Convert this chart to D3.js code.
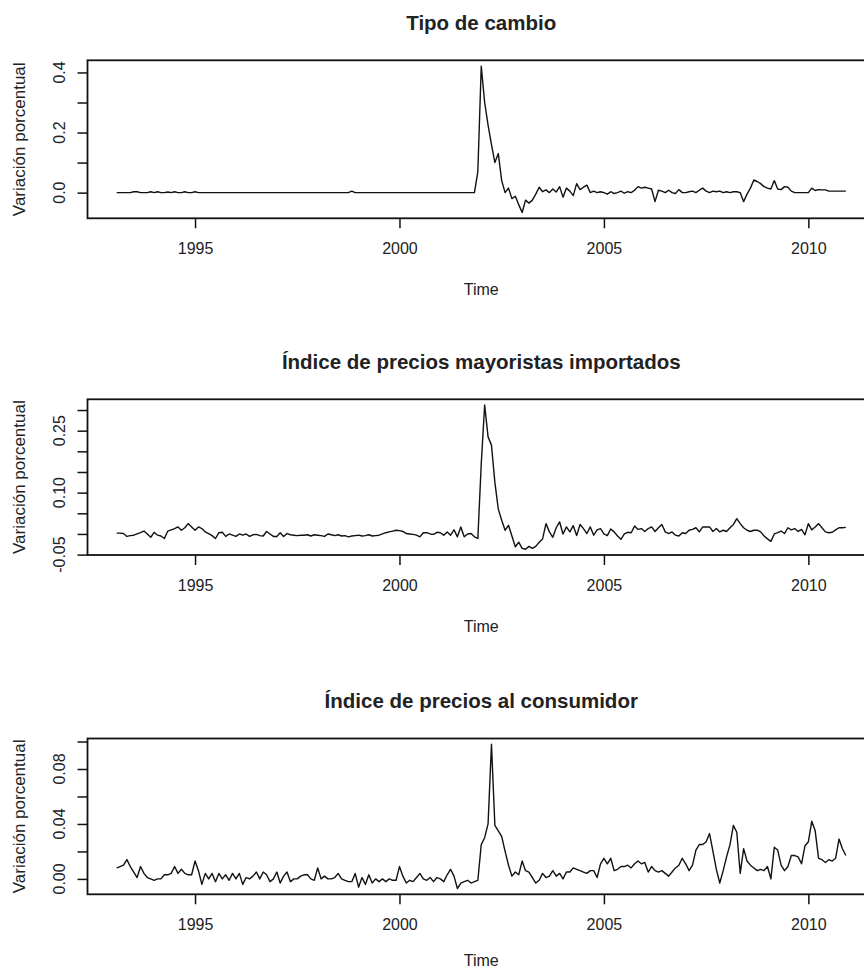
<!DOCTYPE html>
<html>
<head>
<meta charset="utf-8">
<script src="https://cdn.jsdelivr.net/npm/d3@7"></script>
<style>
  body { margin: 0; background: #fff; }
  svg text { font-family: "Liberation Sans", Arial, sans-serif; fill: #222; }
</style>
</head>
<body>
<div id="chart"></div>
<script>
"use strict";

// == data: monthly percent change, Feb 1993 .. Dec 2010 ==
var startYear = 1993, startMonth = 2;
var yearTicks = [1995, 2000, 2005, 2010];
var titles = ["Tipo de cambio", "Índice de precios mayoristas importados", "Índice de precios al consumidor"];
var yLabel = "Variación porcentual";
var xLabel = "Time";

var tipoCambio = [
  0, 0, 0, 0, 0, 0.003, 0.003, 0, 0, 0, 0.003,
  0, 0.003, 0, 0, 0.002, 0, 0.003, 0, 0, 0.003, 0, 0,
  0.003, 0, 0, 0, 0, 0, 0, 0, 0, 0, 0, 0,
  0, 0, 0, 0, 0, 0, 0, 0, 0, 0, 0, 0,
  0, 0, 0, 0, 0, 0, 0, 0, 0, 0, 0, 0,
  0, 0, 0, 0, 0, 0, 0, 0, 0, 0, 0.005, 0,
  0, 0, 0, 0, 0, 0, 0, 0, 0, 0, 0, 0,
  0, 0, 0, 0, 0, 0, 0, 0, 0, 0, 0, 0,
  0, 0, 0, 0, 0, 0, 0, 0, 0, 0, 0, 0.07,
  0.421, 0.30, 0.225, 0.16, 0.10, 0.13, 0.04, 0.0, 0.015, -0.02, -0.012, -0.04,
  -0.066, -0.025, -0.035, -0.025, -0.005, 0.018, 0.003, 0.009, 0.0, 0.012, 0.002, 0.02,
  -0.015, 0.015, 0.005, -0.01, 0.03, 0.01, 0.018, 0.025, 0.0, 0.005, 0.0, 0.003,
  0.0, -0.005, 0.003, -0.003, 0.0, 0.005, -0.002, 0.003, 0.0, 0.008, 0.02, 0.015,
  0.018, 0.015, 0.012, -0.03, 0.008, 0.005, 0.0, 0.008, 0.0, -0.003, 0.01, 0.0,
  0.0, 0.003, 0.005, 0.0, 0.008, 0.015, 0.005, 0.0, 0.005, 0.003, 0.005, 0.0,
  0.003, 0.0, 0.003, 0.003, 0.0, -0.03, -0.005, 0.015, 0.042, 0.037, 0.03, 0.02,
  0.015, 0.012, 0.04, 0.012, 0.01, 0.02, 0.018, 0.005, 0, 0, 0, 0,
  0, 0.015, 0.007, 0.01, 0.009, 0.009, 0.005, 0.005, 0.005, 0.005, 0.005, 0.005
];

var preciosMayoristas = [
  0.002, 0.002, 0.001, -0.006, -0.004, -0.003, 0.0, 0.003, 0.007, 0.0, -0.008,
  0.004, -0.003, -0.005, -0.011, 0.007, 0.01, 0.013, 0.017, 0.009, 0.015, 0.025, 0.017,
  0.009, 0.017, 0.013, 0.005, 0.001, -0.004, -0.011, 0.003, 0.004, -0.006, 0.0, -0.003,
  -0.006, 0.0, -0.003, 0.0, -0.006, -0.002, -0.001, -0.004, -0.005, 0.006, 0.0, -0.006,
  -0.006, 0.003, -0.006, 0.001, -0.002, -0.003, -0.004, -0.003, -0.003, -0.002, -0.005, -0.002,
  -0.003, -0.004, -0.006, 0.0, -0.002, -0.004, -0.002, -0.005, -0.004, -0.007, -0.005, -0.004,
  -0.003, -0.005, -0.004, -0.002, -0.005, -0.004, -0.003, 0.0, 0.003, 0.005, 0.007, 0.009,
  0.008, 0.006, 0.001, 0.0, -0.001, -0.003, -0.007, 0.003, 0.003, 0.0, -0.001, 0.004,
  0.003, -0.003, 0.005, -0.003, 0.01, -0.007, 0.017, -0.007, 0.0, 0.001, -0.007, -0.011,
  0.17, 0.312, 0.235, 0.215, 0.125, 0.06, 0.033, 0.009, 0.021, -0.005, -0.031, -0.02,
  -0.035, -0.037, -0.03, -0.035, -0.03, -0.02, -0.012, 0.025, 0.005, -0.008, 0.015, 0.029,
  0.0, 0.017, 0.005, 0.02, -0.004, 0.023, 0.013, 0.001, 0.017, -0.003, 0.01, 0.013,
  0.0, -0.004, 0.012, 0.005, -0.005, -0.013, 0.0, 0.004, 0.003, 0.019, 0.011, 0.013,
  0.006, 0.013, 0.017, 0.006, 0.015, 0.023, 0.005, 0.001, 0.005, -0.003, -0.005, 0.003,
  0.001, 0.009, 0.011, 0.015, 0.005, 0.017, 0.017, 0.017, 0.006, 0.013, 0.005, 0.009,
  0.006, 0.015, 0.023, 0.037, 0.025, 0.015, 0.009, 0.006, 0.009, 0.009, 0.005, -0.005,
  -0.012, -0.018, 0.0, 0.003, 0.007, 0.001, 0.015, 0.01, 0.013, 0.006, 0.011, -0.002,
  0.025, 0.01, 0.017, 0.025, 0.015, 0.005, 0.003, 0.004, 0.01, 0.015, 0.015, 0.016
];

var preciosConsumidor = [
  0.008, 0.009, 0.01, 0.014, 0.009, 0.005, 0.001, 0.009, 0.004, 0.001, 0.0,
  -0.001, 0.0, 0.0, 0.003, 0.003, 0.004, 0.009, 0.004, 0.007, 0.004, 0.003, 0.003,
  0.013, 0.006, -0.004, 0.004, 0.0, 0.004, -0.002, 0.004, 0.0, 0.003, -0.001, 0.004,
  0.0, 0.004, -0.004, 0.001, 0.0, 0.002, 0.005, 0.0, 0.005, 0.003, -0.002, 0.0,
  0.005, -0.003, 0.002, 0.005, -0.002, 0.0, 0.0, 0.002, 0.003, 0.003, 0.0, -0.001,
  0.008, 0.0, 0.002, 0.0, 0.0, 0.001, 0.004, 0.0, -0.001, -0.002, -0.002, 0.004,
  -0.006, 0.001, -0.004, 0.003, -0.003, 0.0, -0.002, 0.0, -0.002, 0.0, -0.001, -0.001,
  0.009, 0.002, -0.003, -0.001, -0.002, 0.001, 0.004, 0.0, -0.001, 0.001, -0.002, 0.001,
  0.0, -0.002, 0.003, 0.007, 0.002, -0.007, -0.003, -0.002, -0.001, -0.003, -0.002, -0.001,
  0.025, 0.03, 0.04, 0.098, 0.039, 0.035, 0.031, 0.02, 0.01, 0.002, 0.005, 0.003,
  0.013, 0.006, 0.005, 0.001, -0.003, -0.001, 0.004, 0.001, 0.002, 0.006, 0.002, 0.004,
  0.0, 0.005, 0.005, 0.008, 0.007, 0.006, 0.005, 0.004, 0.006, 0.006, 0.001, 0.011,
  0.015, 0.011, 0.015, 0.006, 0.007, 0.009, 0.009, 0.01, 0.008, 0.011, 0.013, 0.011,
  0.012, 0.005, 0.009, 0.006, 0.005, 0.006, 0.004, 0.002, 0.005, 0.008, 0.01, 0.015,
  0.011, 0.006, 0.01, 0.021, 0.025, 0.025, 0.027, 0.033, 0.02, 0.007, -0.003, 0.006,
  0.016, 0.025, 0.039, 0.034, 0.004, 0.022, 0.013, 0.01, 0.008, 0.006, 0.007, 0.006,
  0.009, 0.0, 0.023, 0.021, 0.01, 0.006, 0.009, 0.017, 0.017, 0.016, 0.011, 0.024,
  0.027, 0.042, 0.035, 0.015, 0.014, 0.012, 0.014, 0.013, 0.015, 0.029, 0.022, 0.017
];

// == y axis ticks and the labels R kept ==
var yTicks = [
  [0, 0.1, 0.2, 0.3, 0.4],
  [-0.05, 0, 0.05, 0.10, 0.15, 0.20, 0.25, 0.30],
  [0, 0.02, 0.04, 0.06, 0.08, 0.10]
];
var yLabelValues = [[0, 0.2, 0.4], [-0.05, 0.10, 0.25], [0, 0.04, 0.08]];
var yLabelTexts = [["0.0", "0.2", "0.4"], ["-0.05", "0.10", "0.25"], ["0.00", "0.04", "0.08"]];

var seriesList = [tipoCambio, preciosMayoristas, preciosConsumidor];

// == layout ==
var width = 864, height = 971;
var left = 87.5, right = 875;
var panelTops = [60.3, 399.3, 738.5];
var panelBottoms = [218.3, 555, 894.3];

var svg = d3.select("#chart")
            .append("svg")
            .attr("width", width)
            .attr("height", height)
            .style("display", "block");

svg.append("rect")
   .attr("width", width)
   .attr("height", height)
   .attr("fill", "#fff");

// == time for every month, R pads the range by 4% ==
var times = tipoCambio.map(function (d, i) {
  return startYear + (startMonth - 1 + i) / 12;
});
var tExt = d3.extent(times);
var tPad = (tExt[1] - tExt[0]) * 0.04;
var xScale = d3.scaleLinear()
               .domain([tExt[0] - tPad, tExt[1] + tPad])
               .range([left, right]);

seriesList.forEach(function (values, p) {
  var top = panelTops[p], bottom = panelBottoms[p];
  var ext = d3.extent(values);
  var pad = (ext[1] - ext[0]) * 0.04;
  var yScale = d3.scaleLinear()
                 .domain([ext[0] - pad, ext[1] + pad])
                 .range([bottom, top]);

  var g = svg.append("g");

  // == the series ==
  var line = d3.line()
               .x(function (d, i) { return xScale(times[i]); })
               .y(function (d) { return yScale(d); });

  g.append("path")
   .datum(values)
   .attr("d", line)
   .attr("fill", "none")
   .attr("stroke", "#111")
   .attr("stroke-width", 1.4)
   .attr("stroke-linejoin", "round");

  // == box ==
  g.append("rect")
   .attr("x", left)
   .attr("y", top)
   .attr("width", right - left)
   .attr("height", bottom - top)
   .attr("fill", "none")
   .attr("stroke", "#111")
   .attr("stroke-width", 1.8);

  // == x axis ==
  var xAxis = d3.axisBottom(xScale)
                .tickValues(yearTicks)
                .tickSizeInner(10)
                .tickSizeOuter(0)
                .tickFormat(d3.format("d"));

  var gx = g.append("g")
            .attr("transform", "translate(0," + bottom + ")")
            .call(xAxis);
  gx.select(".domain").remove();
  gx.selectAll(".tick line").attr("stroke", "#111").attr("stroke-width", 1.5);
  gx.selectAll(".tick text")
    .attr("y", 36)
    .attr("dy", null)
    .attr("font-size", 16)
    .attr("font-family", "Liberation Sans, Arial, sans-serif")
    .attr("fill", "#222");

  // == y axis ==
  var yAxis = d3.axisLeft(yScale)
                .tickValues(yTicks[p])
                .tickSizeInner(10)
                .tickSizeOuter(0)
                .tickFormat("");

  var gy = g.append("g")
            .attr("transform", "translate(" + left + ",0)")
            .call(yAxis);
  gy.select(".domain").remove();
  gy.selectAll(".tick line").attr("stroke", "#111").attr("stroke-width", 1.5);

  g.selectAll(".ylab")
   .data(yLabelValues[p])
   .enter()
   .append("text")
   .attr("class", "ylab")
   .attr("transform", function (d) {
     return "translate(65," + yScale(d) + ") rotate(-90)";
   })
   .attr("text-anchor", "middle")
   .attr("font-size", 16)
   .text(function (d, i) { return yLabelTexts[p][i]; });

  // == titles and axis names ==
  g.append("text")
   .attr("x", (left + right) / 2)
   .attr("y", top - 30.5)
   .attr("text-anchor", "middle")
   .attr("font-size", 20.5)
   .attr("font-weight", "bold")
   .text(titles[p]);

  g.append("text")
   .attr("x", (left + right) / 2)
   .attr("y", Math.min(bottom + 76.5, height - 5))
   .attr("text-anchor", "middle")
   .attr("font-size", 16)
   .text(xLabel);

  g.append("text")
   .attr("transform", "translate(25," + (top + bottom) / 2 + ") rotate(-90)")
   .attr("text-anchor", "middle")
   .attr("font-size", 17)
   .text(yLabel);
});
</script>
</body>
</html>
